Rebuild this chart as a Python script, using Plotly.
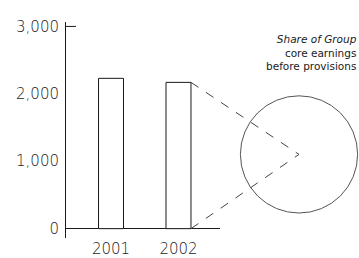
import plotly.graph_objects as go

# ---- data ----
years = ["2001", "2002"]
earnings = [2230, 2170]
y_ticks = [0, 1000, 2000, 3000]
y_ticklabels = ["0", "1,000", "2,000", "3,000"]
pie_values = [1]
note_lines = ["<i>Share of Group</i>", "core earnings", "before provisions"]

W, H = 359, 258
INK = "#1a1a1a"
FONT = "DejaVu Sans"

# layout geometry (fractions of the figure)
x_dom = [66 / W, 220 / W]
y_dom = [1 - 240 / H, 1 - 18 / H]
x_rng = [-0.667, 1.615]
y_rng = [-145, 3072]
bar_w = 0.37
pie_dom_x = [239 / W, 1.0]
pie_dom_y = [1 - 214 / H, 1 - 94 / H]

xs = list(range(len(years)))

fig = go.Figure()
fig.add_trace(go.Bar(
    x=xs, y=earnings, width=bar_w,
    marker=dict(color="white", line=dict(color=INK, width=1)),
    hoverinfo="skip", showlegend=False,
))
fig.add_trace(go.Pie(
    values=pie_values, domain=dict(x=pie_dom_x, y=pie_dom_y),
    marker=dict(colors=["rgba(255,255,255,0)"], line=dict(color="#555", width=1)),
    textinfo="none", hoverinfo="skip", showlegend=False, sort=False,
))

# connector lines from the last bar's right corners to the pie centre
def xpaper(v):
    return x_dom[0] + (v - x_rng[0]) / (x_rng[1] - x_rng[0]) * (x_dom[1] - x_dom[0])

def ypaper(v):
    return y_dom[0] + (v - y_rng[0]) / (y_rng[1] - y_rng[0]) * (y_dom[1] - y_dom[0])

bx = xpaper(xs[-1] + bar_w / 2)
cx = (pie_dom_x[0] + pie_dom_x[1]) / 2
cy = (pie_dom_y[0] + pie_dom_y[1]) / 2
shapes = []
for yv in (earnings[-1], 0):
    shapes.append(dict(type="line", xref="paper", yref="paper",
                       x0=bx, y0=ypaper(yv), x1=cx, y1=cy,
                       line=dict(color="#444", width=1, dash="dash")))
# top tick pointing into the plot
shapes.append(dict(type="line", xref="x domain", yref="y",
                   x0=0, x1=0.065, y0=y_ticks[-1], y1=y_ticks[-1],
                   line=dict(color=INK, width=1)))

fig.update_layout(
    width=W, height=H,
    margin=dict(l=0, r=0, t=0, b=0),
    paper_bgcolor="white", plot_bgcolor="white",
    font=dict(family=FONT, color=INK, size=15, weight=200),
    shapes=shapes,
    annotations=[dict(text="<br>".join(note_lines), xref="paper", yref="paper",
                      x=358 / W, y=1 - 29 / H, xanchor="right", yanchor="top",
                      align="right", showarrow=False, borderpad=0,
                      font=dict(family=FONT, size=10.5, color=INK, weight="normal"))],
    xaxis=dict(domain=x_dom, range=x_rng, tickvals=xs, ticktext=years,
               showgrid=False, zeroline=False, showline=False, ticks="",
               tickfont=dict(size=15, weight=200, color=INK)),
    yaxis=dict(domain=y_dom, range=y_rng, tickvals=y_ticks, ticktext=y_ticklabels,
               showgrid=False, zeroline=True, zerolinecolor=INK, zerolinewidth=1,
               showline=True, linecolor=INK, linewidth=1,
               ticks="outside", ticklen=3, tickcolor="white",
               tickfont=dict(size=15, weight=200, color=INK)),
)

fig.write_html("out.html", config={"displayModeBar": False},
               post_script="document.body.style.margin='0';document.body.style.overflow='hidden';")
